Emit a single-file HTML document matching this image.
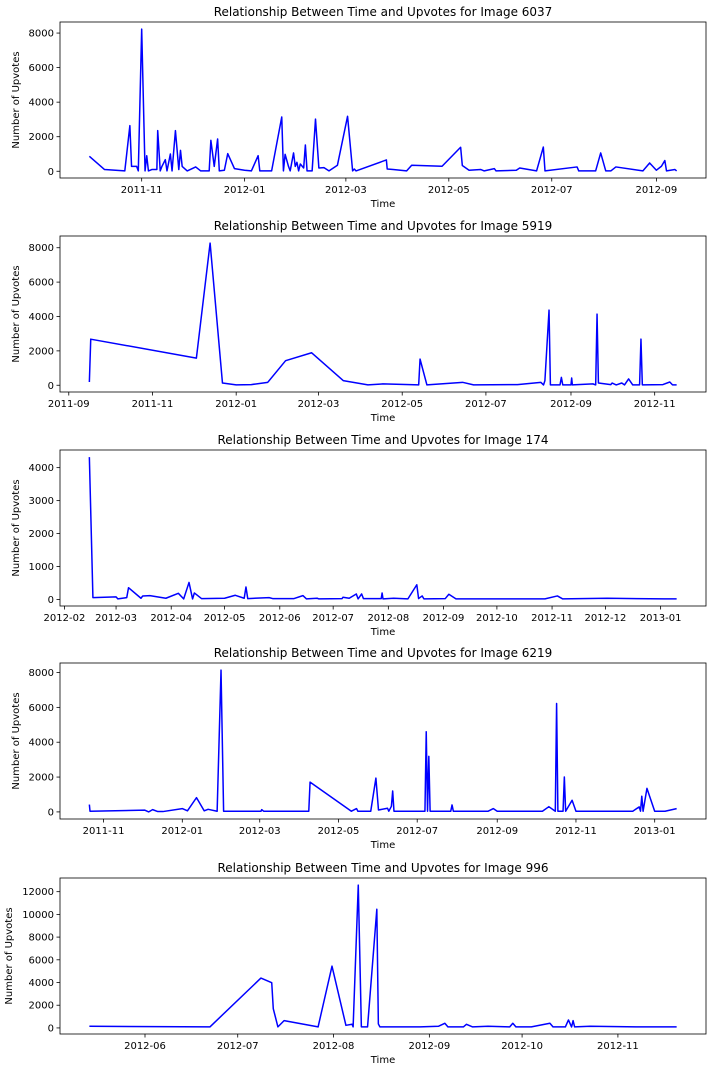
<!DOCTYPE html>
<html><head><meta charset="utf-8"><style>
body{margin:0;background:#fff;}
svg{display:block;font-family:"DejaVu Sans","Liberation Sans",sans-serif;}
</style></head><body>
<svg id="fig" width="712" height="1072" viewBox="0 0 712 1072" xmlns="http://www.w3.org/2000/svg"></svg>
<script>
// ---------- Panel data ----------
const p1Dates=["2011-10-01","2011-10-10","2011-10-22","2011-10-25","2011-10-26","2011-10-29","2011-10-30","2011-11-01","2011-11-03","2011-11-04","2011-11-05","2011-11-07","2011-11-10","2011-11-10T12","2011-11-12","2011-11-13","2011-11-15","2011-11-16","2011-11-18","2011-11-19","2011-11-21","2011-11-23","2011-11-24","2011-11-25","2011-11-28","2011-12-03","2011-12-06","2011-12-11","2011-12-12","2011-12-14","2011-12-16","2011-12-17","2011-12-20","2011-12-22","2011-12-26","2012-01-01","2012-01-05","2012-01-09","2012-01-10","2012-01-17","2012-01-23","2012-01-24","2012-01-25","2012-01-27","2012-01-28","2012-01-30","2012-01-31","2012-02-01","2012-02-02","2012-02-03","2012-02-05","2012-02-06","2012-02-07","2012-02-10","2012-02-12","2012-02-14","2012-02-17","2012-02-20","2012-02-25","2012-03-02","2012-03-05","2012-03-06","2012-03-07","2012-03-25","2012-03-25T12","2012-03-29","2012-04-06","2012-04-09","2012-04-27","2012-05-08","2012-05-09","2012-05-13","2012-05-20","2012-05-22","2012-05-28","2012-05-29","2012-06-10","2012-06-12","2012-06-22","2012-06-26","2012-06-27","2012-07-16","2012-07-17","2012-07-27","2012-07-30","2012-08-02","2012-08-05","2012-08-08","2012-08-24","2012-08-28","2012-09-01","2012-09-04","2012-09-06","2012-09-07","2012-09-12","2012-09-13"];
const p1Votes=[867,100,20,2640,280,280,20,8230,20,900,20,100,100,2350,20,280,670,20,1000,20,2350,100,1210,280,20,250,20,20,1790,280,1870,20,60,1020,150,60,20,900,20,20,3140,20,980,280,20,1060,280,520,20,420,190,1520,20,20,3020,190,210,20,350,3180,20,130,20,655,130,100,20,350,290,1390,330,60,100,20,150,20,60,190,20,1400,20,250,20,20,1060,20,20,250,20,480,60,290,620,20,100,20];
const p2Dates=["2011-09-16","2011-09-17","2011-12-03","2011-12-13","2011-12-22","2012-01-01","2012-01-12","2012-01-24","2012-02-06","2012-02-25","2012-03-19","2012-04-06","2012-04-17","2012-05-13","2012-05-14","2012-05-19","2012-06-14","2012-06-22","2012-07-24","2012-08-10","2012-08-12","2012-08-13","2012-08-16","2012-08-17","2012-08-24","2012-08-25","2012-08-26","2012-09-01","2012-09-01T12","2012-09-02","2012-09-17","2012-09-19","2012-09-20","2012-09-21","2012-09-30","2012-10-01","2012-10-04","2012-10-08","2012-10-10","2012-10-13","2012-10-16","2012-10-21","2012-10-22","2012-10-23","2012-11-07","2012-11-12","2012-11-14","2012-11-17"];
const p2Votes=[190,2680,1580,8270,130,20,40,170,1430,1890,270,20,80,20,1520,20,170,20,40,170,20,270,4370,20,20,460,20,20,420,20,80,20,4140,130,40,130,20,130,20,370,20,20,2680,20,40,190,20,20];
const p3Dates=["2012-02-15","2012-02-17","2012-03-01","2012-03-02","2012-03-07","2012-03-08","2012-03-15","2012-03-16","2012-03-20","2012-03-29","2012-04-05","2012-04-08","2012-04-11","2012-04-13","2012-04-14","2012-04-18","2012-05-01","2012-05-07","2012-05-12","2012-05-13","2012-05-14","2012-05-26","2012-05-28","2012-06-09","2012-06-14","2012-06-16","2012-06-22","2012-06-23","2012-07-06","2012-07-06T12","2012-07-10","2012-07-14","2012-07-15","2012-07-17","2012-07-18","2012-07-28","2012-07-28T12","2012-07-29","2012-08-04","2012-08-12","2012-08-17","2012-08-18","2012-08-20","2012-08-21","2012-09-02","2012-09-04","2012-09-08","2012-10-28","2012-11-04","2012-11-07","2012-12-02","2013-01-03","2013-01-10"];
const p3Votes=[4320,60,80,20,60,360,40,110,120,40,190,20,520,20,200,30,40,130,40,380,30,60,30,30,120,20,40,20,30,70,40,170,20,170,30,30,200,20,40,20,450,30,110,20,30,160,20,20,110,20,40,20,20];
const p4Dates=["2011-10-21","2011-10-21T12","2011-12-03","2011-12-06","2011-12-09","2011-12-13","2011-12-17","2012-01-01","2012-01-05","2012-01-12","2012-01-18","2012-01-21","2012-01-28","2012-01-31","2012-02-02","2012-03-02","2012-03-02T12","2012-03-04","2012-04-08","2012-04-09","2012-05-11","2012-05-15","2012-05-16","2012-05-26","2012-05-30","2012-06-01","2012-06-08","2012-06-09","2012-06-11","2012-06-12","2012-06-13","2012-07-07","2012-07-08","2012-07-09","2012-07-10","2012-07-11","2012-07-27","2012-07-28","2012-07-29","2012-08-25","2012-08-29","2012-09-01","2012-10-06","2012-10-11","2012-10-16","2012-10-17","2012-10-18","2012-10-22","2012-10-23","2012-10-24","2012-10-29","2012-11-01","2012-12-15","2012-12-20","2012-12-21","2012-12-22","2012-12-23","2012-12-26","2013-01-01","2013-01-09","2013-01-18"];
const p4Votes=[420,40,100,0,130,20,20,190,60,820,60,150,40,8140,40,40,130,40,40,1710,40,190,40,40,1940,110,210,40,320,1200,40,40,4600,40,3190,40,40,400,40,40,190,40,40,300,40,6220,40,40,2000,40,670,40,40,290,40,900,40,1350,40,40,190];
const p5Dates=["2012-05-14","2012-06-22","2012-07-08T12","2012-07-12","2012-07-12T12","2012-07-14","2012-07-16","2012-07-27","2012-07-31T12","2012-08-05","2012-08-07","2012-08-07T08","2012-08-09","2012-08-10","2012-08-12","2012-08-15","2012-08-15T12","2012-08-16","2012-08-29","2012-09-04","2012-09-06","2012-09-07","2012-09-12","2012-09-13","2012-09-15","2012-09-20","2012-09-27","2012-09-28","2012-09-29","2012-10-04","2012-10-10","2012-10-11","2012-10-15","2012-10-16","2012-10-17","2012-10-17T12","2012-10-18","2012-10-23","2012-11-07","2012-11-20"];
const p5Votes=[150,90,4390,3980,1700,90,640,90,5440,230,320,90,12580,90,90,10450,350,90,90,150,410,90,90,320,90,150,90,410,90,90,410,90,90,700,90,640,90,150,90,90];

const p1XTicks=["2011-11","2012-01","2012-03","2012-05","2012-07","2012-09"];
const p2XTicks=["2011-09","2011-11","2012-01","2012-03","2012-05","2012-07","2012-09","2012-11"];
const p3XTicks=["2012-02","2012-03","2012-04","2012-05","2012-06","2012-07","2012-08","2012-09","2012-10","2012-11","2012-12","2013-01"];
const p4XTicks=["2011-11","2012-01","2012-03","2012-05","2012-07","2012-09","2012-11","2013-01"];
const p5XTicks=["2012-06","2012-07","2012-08","2012-09","2012-10","2012-11"];
const p1YTicks=[0,2000,4000,6000,8000];
const p2YTicks=[0,2000,4000,6000,8000];
const p3YTicks=[0,1000,2000,3000,4000];
const p4YTicks=[0,2000,4000,6000,8000];
const p5YTicks=[0,2000,4000,6000,8000,10000,12000];
const titleIds=["6037","5919","174","6219","996"];

const NS="http://www.w3.org/2000/svg";
const svg=document.getElementById('fig');
function mk(tag,attrs,parent){const e=document.createElementNS(NS,tag);for(const k in attrs)e.setAttribute(k,attrs[k]);(parent||svg).appendChild(e);return e;}
function t(s){const p=s.split('T');const d=p[0].split('-').map(Number);const h=p[1]?Number(p[1]):0;return Date.UTC(d[0],d[1]-1,d[2]||1,h);}

const panels=[
 {d:p1Dates,v:p1Votes,xt:p1XTicks,yt:p1YTicks,top:22,yl:19},
 {d:p2Dates,v:p2Votes,xt:p2XTicks,yt:p2YTicks,top:236,yl:19},
 {d:p3Dates,v:p3Votes,xt:p3XTicks,yt:p3YTicks,top:450,yl:19},
 {d:p4Dates,v:p4Votes,xt:p4XTicks,yt:p4YTicks,top:663,yl:19},
 {d:p5Dates,v:p5Votes,xt:p5XTicks,yt:p5YTicks,top:878,yl:12}
];
const L=60,R=706,H=156;
panels.forEach((p,i)=>{
  const g=mk('g',{});
  
  
  const ts=p.d.map(t);
  const x0=Math.min(...ts),x1=Math.max(...ts),xr=x1-x0;
  const xd0=x0-0.05*xr,xd1=x1+0.05*xr;
  const y0=Math.min(...p.v),y1=Math.max(...p.v),yr=y1-y0;
  const yd0=y0-0.05*yr,yd1=y1+0.05*yr;
  const X=v=>L+(v-xd0)/(xd1-xd0)*(R-L);
  const B=p.top+H;
  const Y=v=>B-(v-yd0)/(yd1-yd0)*H;
  // line
  const pts=ts.map((tt,k)=>X(tt).toFixed(2)+','+Y(p.v[k]).toFixed(2)).join(' ');
  const line=mk('polyline',{points:pts,fill:'none',stroke:'#0000ff','stroke-width':1.5,'stroke-linejoin':'round'},g);
  
  
  const fr=mk('rect',{x:L,y:p.top,width:R-L,height:H,fill:'none',stroke:'#000','stroke-width':0.8},g);
  
  
  // x ticks
  p.xt.forEach(s=>{
    const x=X(t(s+'-01'));
    mk('line',{x1:x,x2:x,y1:B,y2:B+3.5,stroke:'#000','stroke-width':0.8},g);
    const tx=mk('text',{x:x,y:B+15,'font-size':10,'text-anchor':'middle',fill:'#000'},g);
    
    
    tx.textContent=s;
  });
  p.yt.forEach(v=>{
    const y=Y(v);
    mk('line',{x1:L-3.5,x2:L,y1:y,y2:y,stroke:'#000','stroke-width':0.8},g);
    const tx=mk('text',{x:L-6,y:y+3.5,'font-size':10,'text-anchor':'end',fill:'#000'},g);
    
    
    tx.textContent=v;
  });
  const ti=mk('text',{x:(L+R)/2,y:p.top-6,'font-size':12,'text-anchor':'middle',fill:'#000'},g);
  
  
  ti.textContent='Relationship Between Time and Upvotes for Image '+titleIds[i];
  const xl=mk('text',{x:(L+R)/2,y:B+29,'font-size':10,'text-anchor':'middle',fill:'#000'},g);
  
  
  xl.textContent='Time';
  const cy=p.top+H/2;
  const yl=mk('text',{x:p.yl,y:cy,'font-size':10,'text-anchor':'middle',fill:'#000',transform:'rotate(-90 '+p.yl+' '+cy+')'},g);
  
  
  yl.textContent='Number of Upvotes';
});
</script>
</body></html>
